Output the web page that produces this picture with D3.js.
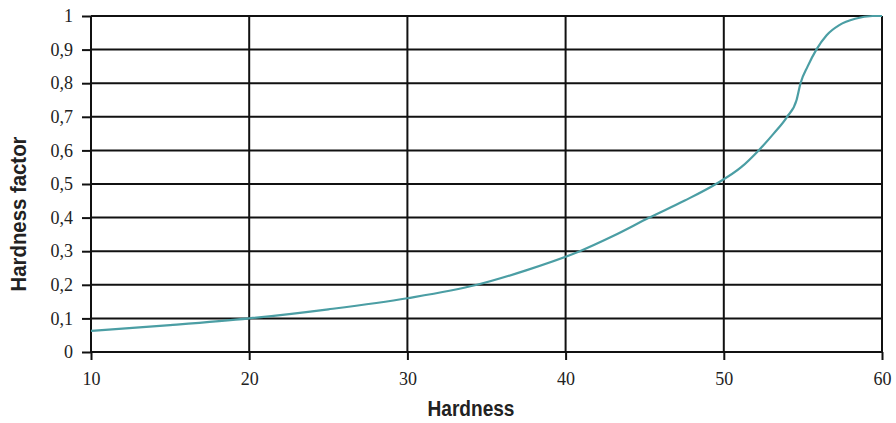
<!DOCTYPE html>
<html>
<head>
<meta charset="utf-8">
<style>
  body { margin: 0; background: #fff; }
</style>
</head>
<body>
<div id="chart"></div>
<script src="https://d3js.org/d3.v7.min.js"></script>
<script>
  // values
  const hardness = [10, 15, 20, 25, 30, 34.4, 37.5, 40.9, 43, 45.3, 47.5, 49.5, 51.1, 52.2, 53.15, 54, 54.6, 54.85, 55.3, 55.85, 56.5, 57.3, 58.3, 59.4, 60];
  const factor   = [0.063, 0.08, 0.10, 0.127, 0.16, 0.20, 0.243, 0.30, 0.345, 0.40, 0.45, 0.50, 0.55, 0.60, 0.65, 0.70, 0.75, 0.80, 0.85, 0.90, 0.943, 0.973, 0.992, 1, 1];
  const xTicks = [10, 20, 30, 40, 50, 60];
  const yTicks = [0, 0.1, 0.2, 0.3, 0.4, 0.5, 0.6, 0.7, 0.8, 0.9, 1];

  const width = 896, height = 423;
  const margin = { left: 91, right: 14, top: 16, bottom: 71 };

  const serif = "'Liberation Serif', Tinos, 'Nimbus Roman', 'Nimbus Roman No9 L', FreeSerif, 'Times New Roman', Times, 'DejaVu Serif', 'Noto Serif', serif";
  const narrow = "'Liberation Sans Narrow', 'Liberation Sans', Arial, sans-serif";

  const x = d3.scaleLinear().domain([10, 60]).range([margin.left, width - margin.right]);
  const y = d3.scaleLinear().domain([0, 1]).range([height - margin.bottom, margin.top]);

  const svg = d3.select('#chart').append('svg')
      .attr('width', width)
      .attr('height', height);

  // grid
  svg.append('g')
      .selectAll('line')
      .data(yTicks)
      .join('line')
      .attr('x1', x(10)).attr('x2', x(60))
      .attr('y1', d => y(d)).attr('y2', d => y(d))
      .attr('stroke', '#111').attr('stroke-width', 2);

  svg.append('g')
      .selectAll('line')
      .data(xTicks)
      .join('line')
      .attr('x1', d => x(d)).attr('x2', d => x(d))
      .attr('y1', y(0)).attr('y2', y(1))
      .attr('stroke', '#111').attr('stroke-width', 2);

  const fmt = d => d === 0 || d === 1 ? String(d) : d3.format('.1f')(d).replace('.', ',');

  const yAxis = svg.append('g')
      .attr('font-family', serif)
      .attr('transform', `translate(${x(10)},0)`)
      .call(d3.axisLeft(y).tickValues(yTicks).tickFormat(fmt).tickSize(9).tickPadding(9));
  yAxis.select('.domain').remove();

  const xAxis = svg.append('g')
      .attr('transform', `translate(0,${y(0)})`)
      .call(d3.axisBottom(x).tickValues(xTicks).tickSize(8).tickPadding(12));
  xAxis.select('.domain').remove();

  svg.selectAll('.tick line').attr('stroke', '#111').attr('stroke-width', 2);
  svg.selectAll('.tick text')
      .attr('font-family', serif)
      .style('font-family', serif)
      .style('font-size', '18px')
      .style('fill', '#222');

  // curve
  const line = d3.line()
      .x((d, i) => x(hardness[i]))
      .y(d => y(d))
      .curve(d3.curveMonotoneX);

  svg.append('path')
      .datum(factor)
      .attr('fill', 'none')
      .attr('stroke', '#4b9ea4')
      .attr('stroke-width', 2.2)
      .attr('d', line);

  // titles
  svg.append('text')
      .attr('x', 471)
      .attr('y', 416)
      .attr('text-anchor', 'middle')
      .attr('textLength', 87)
      .attr('lengthAdjust', 'spacingAndGlyphs')
      .style('font-family', narrow)
      .style('font-weight', 'bold')
      .style('font-size', '22px')
      .style('fill', '#222')
      .text('Hardness');

  svg.append('text')
      .attr('transform', 'translate(26,214) rotate(-90)')
      .attr('text-anchor', 'middle')
      .attr('textLength', 155)
      .attr('lengthAdjust', 'spacingAndGlyphs')
      .style('font-family', narrow)
      .style('font-weight', 'bold')
      .style('font-size', '22px')
      .style('fill', '#222')
      .text('Hardness factor');
</script>
</body>
</html>
